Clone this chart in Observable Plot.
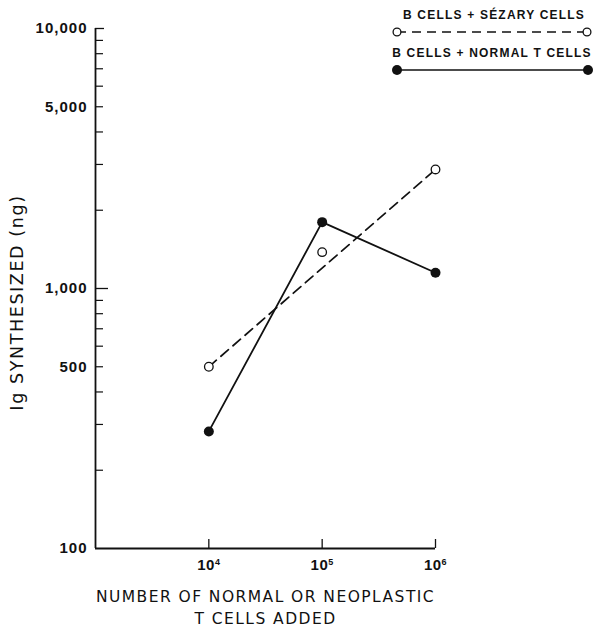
<!DOCTYPE html>
<html>
<head>
<meta charset="utf-8">
<script src="https://cdn.jsdelivr.net/npm/d3@7"></script>
<script src="https://cdn.jsdelivr.net/npm/@observablehq/plot@0.6"></script>
<style>
  html, body { margin: 0; padding: 0; background: #fff; }
  #wrap { position: relative; width: 596px; height: 628px; overflow: hidden; }
  #wrap svg text { fill: #111; }
  #legend { position: absolute; left: 0; top: 0; pointer-events: none; }
</style>
</head>
<body>
<div id="wrap"></div>
<script>
// ---- data ----
const cellsAdded = [1e4, 1e5, 1e6];
const cellTickLabels = ["10\u2074", "10\u2075", "10\u2076"];
const sezaryIg = [500, 1380, 2870];
const normalIg = [282, 1800, 1150];
const yTickLabelValues = [100, 500, 1000, 5000, 10000];
const yMinorTicks = [200, 300, 400, 500, 600, 700, 800, 900, 2000, 3000, 4000, 5000, 6000, 7000, 8000, 9000];
const yMajorTicks = [1000];
const seriesNames = ["B CELLS + S\u00C9ZARY CELLS", "B CELLS + NORMAL T CELLS"];
const xTitle = "NUMBER OF NORMAL OR NEOPLASTIC\nT CELLS ADDED";
const yTitle = "Ig SYNTHESIZED (ng)";
const xDomain = [1e3, 1e6];
const yDomain = [100, 10000];

// ---- layout ----
const W = 596, H = 628;
const mL = 95, mR = 161, mT = 28, mB = 80;
const fw = W - mL - mR, fh = H - mT - mB;
const SANS = "'Liberation Sans', Arial, sans-serif";
const TITLE = "'DejaVu Sans', 'Liberation Sans', sans-serif";

const sezary = cellsAdded.map((c, i) => ({x: c, y: sezaryIg[i]}));
const normal = cellsAdded.map((c, i) => ({x: c, y: normalIg[i]}));
const sezaryTrend = [sezary[0], sezary[sezary.length - 1]];

const chart = Plot.plot({
  width: W, height: H,
  marginLeft: mL, marginRight: mR, marginTop: mT, marginBottom: mB,
  style: {background: "#fff", color: "#111", fontFamily: SANS},
  x: {type: "log", domain: xDomain},
  y: {type: "log", domain: yDomain},
  marks: [
    Plot.ruleX([xDomain[0]], {stroke: "#111", strokeWidth: 1.8}),
    Plot.ruleY([yDomain[0]], {stroke: "#111", strokeWidth: 1.8}),
    Plot.tickY(yMinorTicks, {y: d => d, stroke: "#111", strokeWidth: 1.2, insetRight: fw - 8}),
    Plot.tickY(yMajorTicks, {y: d => d, stroke: "#111", strokeWidth: 1.3, insetRight: fw - 13}),
    Plot.tickY([yDomain[1]], {y: d => d, stroke: "#111", strokeWidth: 1.3, insetRight: fw - 9}),
    Plot.tickX(cellsAdded, {x: d => d, stroke: "#111", strokeWidth: 1.3, insetTop: fh - 9}),
    Plot.axisY({ticks: yTickLabelValues, tickFormat: d3.format(","), tickSize: 0, tickPadding: 8,
      fontSize: 15, fontWeight: "bold", label: null}),
    Plot.axisX({ticks: cellsAdded, tickFormat: d => cellTickLabels[cellsAdded.indexOf(d)], tickSize: 0, tickPadding: 11,
      fontSize: 15, fontWeight: "bold", label: null}),
    Plot.text([xTitle], {frameAnchor: "bottom", textAnchor: "middle", lineAnchor: "top", dy: 39,
      fontSize: 15.5, lineHeight: 1.36, fontFamily: TITLE}),
    Plot.text([yTitle], {frameAnchor: "left", textAnchor: "middle", rotate: -90, dx: -78, dy: 14,
      fontSize: 17.5, fontFamily: TITLE}),
    Plot.line(sezaryTrend, {x: "x", y: "y", stroke: "#111", strokeWidth: 1.7, strokeDasharray: "10,6"}),
    Plot.line(normal, {x: "x", y: "y", stroke: "#111", strokeWidth: 1.8}),
    Plot.dot(normal, {x: "x", y: "y", r: 5, fill: "#111", stroke: "none"}),
    Plot.dot(sezary, {x: "x", y: "y", r: 4.3, fill: "#fff", stroke: "#111", strokeWidth: 1.3})
  ]
});
document.getElementById("wrap").appendChild(chart);

// typographic tweaks (letter spacing, real superscripts)
const svg = d3.select(chart);
svg.selectAll('g[aria-label="y-axis tick label"] text')
  .style("font-size", "15px").style("font-weight", "bold").style("letter-spacing", "1px");
const supMap = {"\u2070": "0", "\u00B9": "1", "\u00B2": "2", "\u00B3": "3", "\u2074": "4", "\u2075": "5", "\u2076": "6", "\u2077": "7", "\u2078": "8", "\u2079": "9"};
svg.selectAll('g[aria-label="x-axis tick label"] text').each(function () {
  const t = this.textContent;
  const base = t.replace(/[\u2070\u00B9\u00B2\u00B3\u2074-\u2079]/g, "");
  const sup = t.slice(base.length).split("").map(c => supMap[c] || c).join("");
  const el = d3.select(this).style("font-size", "15px").style("font-weight", "bold").style("letter-spacing", "0.5px");
  el.text(null);
  el.append("tspan").text(base);
  el.append("tspan").attr("dy", "-5").style("font-size", "9px").text(sup);
});
svg.selectAll("text").each(function () {
  const t = this.textContent;
  if (t.startsWith("NUMBER")) d3.select(this).style("letter-spacing", "1.45px");
  if (t.startsWith("Ig")) d3.select(this).style("letter-spacing", "1.6px");
});

// ---- legend (overlay) ----
const leg = d3.select("#wrap").append("svg").attr("id", "legend").attr("width", W).attr("height", 90);
const legRows = [
  {name: seriesNames[0], tx: 494, ty: 19, ly: 32, x1: 397, x2: 587, dash: "9,6", open: true},
  {name: seriesNames[1], tx: 492, ty: 57, ly: 70, x1: 397, x2: 588, dash: null, open: false}
];
legRows.forEach(r => {
  leg.append("text").attr("x", r.tx).attr("y", r.ty).attr("text-anchor", "middle")
    .attr("font-family", SANS).attr("font-weight", "bold").attr("fill", "#111")
    .attr("font-size", 12).style("letter-spacing", "1.2px").text(r.name);
  leg.append("line").attr("x1", r.x1).attr("x2", r.x2).attr("y1", r.ly).attr("y2", r.ly)
    .attr("stroke", "#111").attr("stroke-width", 1.7).attr("stroke-dasharray", r.dash);
  [r.x1, r.x2].forEach(cx => {
    leg.append("circle").attr("cx", cx).attr("cy", r.ly).attr("r", r.open ? 3.9 : 5)
      .attr("fill", r.open ? "#fff" : "#111").attr("stroke", "#111").attr("stroke-width", r.open ? 1.3 : 0);
  });
});
</script>
</body>
</html>
